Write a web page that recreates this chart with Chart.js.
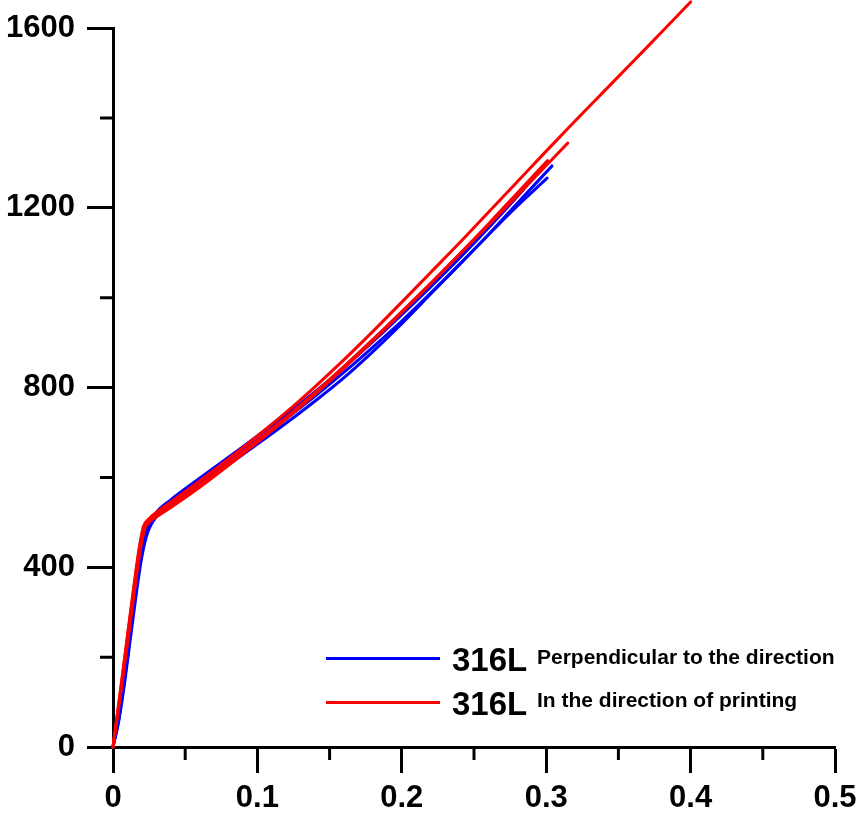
<!DOCTYPE html>
<html>
<head>
<meta charset="utf-8">
<script src="https://cdn.jsdelivr.net/npm/chart.js@4.4.1/dist/chart.umd.min.js"></script>
<style>
  html, body { margin: 0; padding: 0; background: #fff; }
  #wrap { position: relative; width: 856px; height: 826px; }
  canvas { position: absolute; left: 0; top: 0; }
  .leg-line { position: absolute; height: 3px; width: 114px; left: 326px; }
  .leg-main { position: absolute; left: 452px; font: bold 33px "Liberation Sans", Arial, sans-serif; color: #000; line-height: 33px; white-space: nowrap; }
  .leg-sub { position: absolute; left: 537px; font: bold 21px "Liberation Sans", Arial, sans-serif; color: #000; line-height: 24px; white-space: nowrap; }
</style>
</head>
<body>
<div id="wrap">
  <canvas id="c" width="856" height="826"></canvas>
  <div class="leg-line" style="top:657px;background:#0000ff;"></div>
  <div class="leg-main" style="top:643px;">316L</div>
  <div class="leg-sub" style="top:645px;">Perpendicular to the direction</div>
  <div class="leg-line" style="top:701px;background:#ff0000;"></div>
  <div class="leg-main" style="top:687px;">316L</div>
  <div class="leg-sub" style="top:688px;">In the direction of printing</div>
</div>
<script>
// ---- Data (strain, stress MPa) ----
const r1X = [0, 0.005, 0.010, 0.015, 0.018, 0.021, 0.025, 0.030, 0.040, 0.060, 0.080, 0.100, 0.120, 0.140, 0.160, 0.180, 0.200, 0.220, 0.240, 0.260, 0.280, 0.300, 0.320, 0.340, 0.360, 0.380, 0.400];
const r1Y = [0, 122, 248, 372, 440, 490, 508, 522, 545, 592, 641, 692, 745, 802, 862, 925, 990, 1056, 1122, 1190, 1258, 1326, 1393, 1459, 1525, 1591, 1658];

const r2X = [0, 0.005, 0.010, 0.015, 0.018, 0.021, 0.025, 0.030, 0.040, 0.060, 0.080, 0.100, 0.120, 0.140, 0.160, 0.180, 0.200, 0.220, 0.240, 0.260, 0.280, 0.300, 0.315];
const r2Y = [0, 120, 244, 366, 434, 484, 502, 515, 538, 583, 632, 682, 734, 789, 847, 907, 969, 1032, 1096, 1161, 1227, 1294, 1344];

const r3X = [0, 0.005, 0.010, 0.015, 0.019, 0.022, 0.026, 0.030, 0.040, 0.060, 0.080, 0.100, 0.120, 0.140, 0.160, 0.180, 0.200, 0.220, 0.240, 0.260, 0.280, 0.301];
const r3Y = [0, 112, 230, 350, 440, 485, 503, 512, 533, 578, 627, 678, 730, 785, 843, 904, 967, 1031, 1097, 1164, 1233, 1305];

const b1X = [0, 0.004, 0.008, 0.012, 0.016, 0.019, 0.022, 0.025, 0.030, 0.040, 0.060, 0.080, 0.100, 0.120, 0.140, 0.160, 0.180, 0.200, 0.220, 0.240, 0.260, 0.280, 0.298];
const b1Y = [0, 68, 158, 258, 355, 420, 466, 496, 522, 550, 598, 645, 692, 740, 791, 845, 902, 962, 1024, 1088, 1155, 1225, 1292];

const b2X = [0, 0.004, 0.008, 0.012, 0.016, 0.019, 0.022, 0.025, 0.030, 0.040, 0.060, 0.080, 0.100, 0.120, 0.140, 0.160, 0.180, 0.200, 0.220, 0.240, 0.260, 0.280, 0.304];
const b2Y = [0, 62, 150, 250, 348, 414, 462, 492, 517, 544, 590, 636, 683, 731, 781, 834, 890, 948, 1010, 1074, 1140, 1210, 1293];

const b3X = [0, 0.004, 0.008, 0.012, 0.016, 0.019, 0.022, 0.025, 0.030, 0.040, 0.060, 0.080, 0.100, 0.120, 0.140, 0.160, 0.180, 0.200, 0.220, 0.240, 0.260, 0.280, 0.3006];
const b3Y = [0, 58, 142, 240, 338, 405, 455, 486, 512, 538, 583, 628, 674, 721, 770, 822, 880, 942, 1008, 1074, 1140, 1204, 1266];

const xTickLabels = ['0', '0.1', '0.2', '0.3', '0.4', '0.5'];
const yTickLabels = ['0', '400', '800', '1200', '1600'];
const xMinorTicks = [0.05, 0.15, 0.25, 0.35, 0.45];
const yMinorTicks = [200, 600, 1000, 1400];

const RED = '#ff0000', BLUE = '#0000ff';

function pts(xs, ys) { return xs.map((x, i) => ({ x: x, y: ys[i] })); }
function ds(xs, ys, color) {
  return {
    data: pts(xs, ys),
    borderColor: color,
    backgroundColor: color,
    borderWidth: 3,
    showLine: true,
    pointRadius: 0,
    fill: false,
    cubicInterpolationMode: 'monotone',
    borderCapStyle: 'round',
    clip: false
  };
}

// first dataset is drawn on top: reds above blues
const datasets = [
  ds(r1X, r1Y, RED), ds(r2X, r2Y, RED), ds(r3X, r3Y, RED),
  ds(b1X, b1Y, BLUE), ds(b2X, b2Y, BLUE), ds(b3X, b3Y, BLUE)
];

const tickFont = { family: '"Liberation Sans", Arial, sans-serif', size: 31, weight: 'bold' };

const minorTicks = {
  id: 'minorTicks',
  afterDraw(chart) {
    const c = chart.ctx, xs = chart.scales.x, ys = chart.scales.y;
    const area = chart.chartArea;
    c.save();
    c.strokeStyle = '#000';
    c.lineWidth = 3;
    c.beginPath();
    xMinorTicks.forEach(v => {
      const px = xs.getPixelForValue(v);
      c.moveTo(px, area.bottom);
      c.lineTo(px, area.bottom + 13);
    });
    yMinorTicks.forEach(v => {
      const py = ys.getPixelForValue(v);
      c.moveTo(area.left, py);
      c.lineTo(area.left - 13, py);
    });
    c.stroke();
    c.restore();
  }
};

new Chart(document.getElementById('c'), {
  type: 'scatter',
  data: { datasets },
  options: {
    responsive: false,
    animation: false,
    layout: { padding: { left: 0, right: 21, top: 28, bottom: 0 } },
    plugins: { legend: { display: false }, tooltip: { enabled: false } },
    scales: {
      x: {
        type: 'linear', min: 0, max: 0.5,
        ticks: {
          stepSize: 0.1, color: '#000', font: tickFont, padding: 7,
          maxRotation: 0,
          callback: (v, i) => xTickLabels[i]
        },
        grid: { drawOnChartArea: false, drawTicks: true, tickLength: 26, tickWidth: 3, tickColor: '#000' },
        border: { display: true, color: '#000', width: 3 },
        afterFit: s => { s.height = 79; s.paddingLeft = 0; s.paddingRight = 0; }
      },
      y: {
        type: 'linear', min: 0, max: 1600,
        ticks: {
          stepSize: 400, color: '#000', font: tickFont, padding: 12,
          callback: (v, i) => yTickLabels[i]
        },
        grid: { drawOnChartArea: false, drawTicks: true, tickLength: 26, tickWidth: 3, tickColor: '#000' },
        border: { display: true, color: '#000', width: 3 },
        afterFit: s => { s.width = 113; s.paddingTop = 0; s.paddingBottom = 0; }
      }
    }
  },
  plugins: [minorTicks]
});
</script>
</body>
</html>
